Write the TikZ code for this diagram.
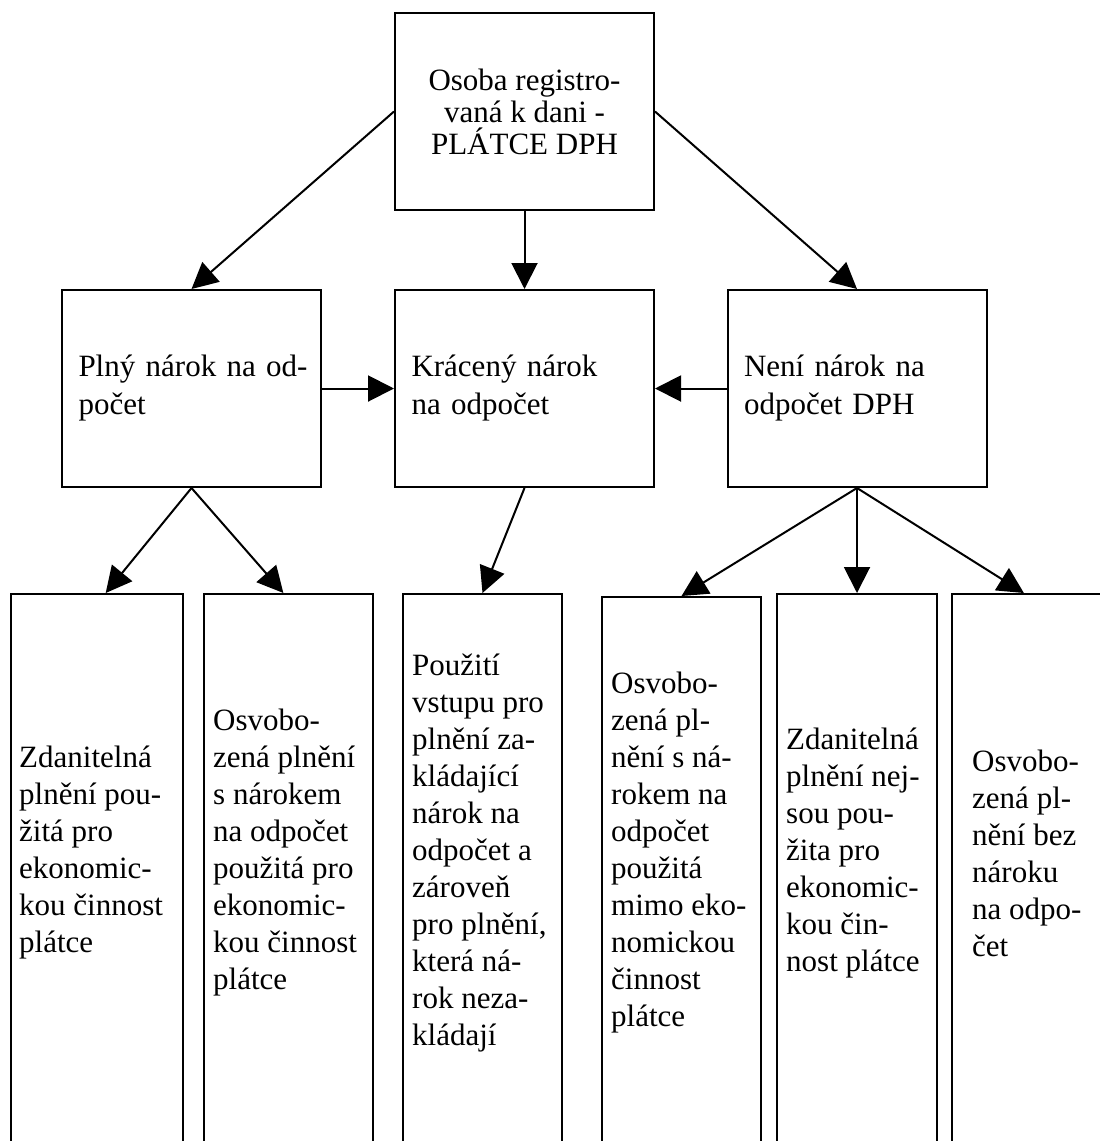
\documentclass[tikz,border=0pt]{standalone}
\usepackage{fontspec}
\setmainfont{Liberation Serif}
\usetikzlibrary{positioning,arrows.meta,calc}
\tikzset{
    x=1pt,
    y=-1pt,
    cell/.style = {
        draw,
        shape=rectangle,
        line width=2pt,
        inner sep=0pt
    },
    payer/.style = {
        cell,
        minimum width=259pt,
        minimum height=197pt,
        align=center,
        font=\fontsize{31}{32}\selectfont
    },
    claim/.style = {
        cell,
        minimum width=259pt,
        minimum height=197pt,
        text width=226pt,
        align=left,
        font=\fontsize{31}{38}\selectfont
    },
    usage/.style = {
        cell,
        anchor=north,
        minimum height=700pt
    },
    usagetext/.style = {
        anchor=west,
        inner sep=0pt,
        align=left,
        font=\fontsize{31}{37}\selectfont
    },
    link/.style = {
        draw,
        ->,
        line width=2pt
    },
    >={Triangle[length=26pt,width=26pt]},
}

\begin{document}
\begin{tikzpicture}
            \useasboundingbox (0,0) rectangle (1100,1141);
            \clip (0,0) rectangle (1100,1141);

            \node[payer] (platce) at (524.5,111.5) {Osoba registro-\\vaná k dani -\\PLÁTCE DPH};

            \node[claim] (plny) at (191.5,388.5) {\mbox{Plný nárok na od-}\\počet};
            \node[claim] (kraceny) at (524.5,388.5) {Krácený nárok\\na odpočet};
            \node[claim] (neni) at (857,388.5) {Není nárok na\\odpočet DPH};

            \node[usage, minimum width=172pt] (zdan) at (97,593) {};
            \node[usage, minimum width=169pt] (osvnar) at (288.5,593) {};
            \node[usage, minimum width=159pt] (pouziti) at (482.5,593) {};
            \node[usage, minimum width=159pt] (osvmimo) at (681.5,596) {};
            \node[usage, minimum width=160pt] (zdanne) at (857,593) {};
            \node[usage, minimum width=160pt] (osvbez) at (1032,593) {};

            \node[usagetext] (zdantext) at ($(zdan.north west)+(9,260)$) {Zdanitelná\\plnění pou-\\žitá pro\\ekonomic-\\kou činnost\\plátce};
            \node[usagetext] (osvnartext) at ($(osvnar.north west)+(10,260)$) {Osvobo-\\zená plnění\\s nárokem\\na odpočet\\použitá pro\\ekonomic-\\kou činnost\\plátce};
            \node[usagetext] (pouzititext) at ($(pouziti.north west)+(10,260)$) {Použití\\vstupu pro\\plnění za-\\kládající\\nárok na\\odpočet a\\zároveň\\pro plnění,\\která ná-\\rok neza-\\kládají};
            \node[usagetext] (osvmimotext) at ($(osvmimo.north west)+(10,257)$) {Osvobo-\\zená pl-\\nění s ná-\\rokem na\\odpočet\\použitá\\mimo eko-\\nomickou\\činnost\\plátce};
            \node[usagetext] (zdannetext) at ($(zdanne.north west)+(10,260)$) {Zdanitelná\\plnění nej-\\sou pou-\\žita pro\\ekonomic-\\kou čin-\\nost plátce};
            \node[usagetext] (osvbeztext) at ($(osvbez.north west)+(21,260)$) {Osvobo-\\zená pl-\\nění bez\\nároku\\na odpo-\\čet};

            \path[link] (platce.west) -- (plny.north);
            \path[link] (platce.south) -- (kraceny.north);
            \path[link] (platce.east) -- (neni.north);

            \path[link] (plny.east) -- (kraceny.west);
            \path[link] (neni.west) -- (kraceny.east);

            \path[link] (plny.south) -- ($(zdan.north west)!0.55!(zdan.north east)$);
            \path[link] (plny.south) -- ($(osvnar.north west)!0.47!(osvnar.north east)$);
            \path[link] (kraceny.south) -- (pouziti.north);
            \path[link] (neni.south) -- (osvmimo.north);
            \path[link] (neni.south) -- (zdanne.north);
            \path[link] (neni.south) -- ($(osvbez.north west)!0.45!(osvbez.north east)$);

\end{tikzpicture}
\end{document}
